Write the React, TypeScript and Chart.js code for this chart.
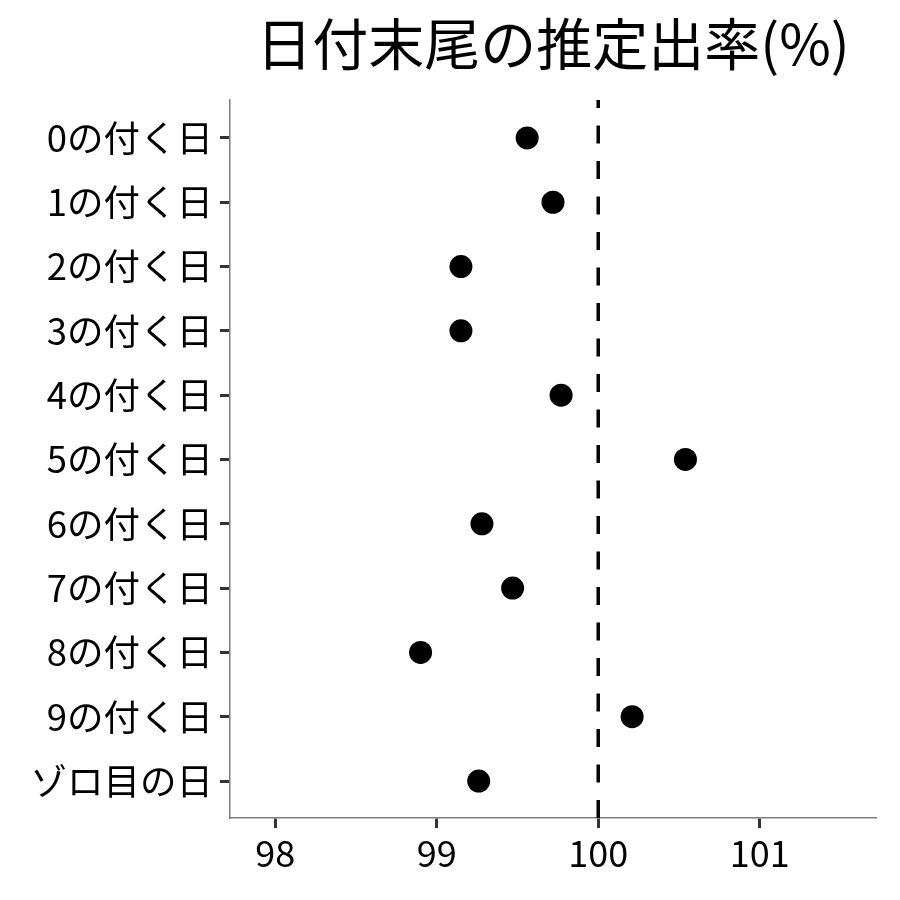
import React, { useEffect, useRef } from "react";
import { Chart, registerables } from "chart.js";

Chart.register(...registerables);

const TITLE = "日付末尾の推定出率(%)";
const CATEGORIES = [
  "0の付く日",
  "1の付く日",
  "2の付く日",
  "3の付く日",
  "4の付く日",
  "5の付く日",
  "6の付く日",
  "7の付く日",
  "8の付く日",
  "9の付く日",
  "ゾロ目の日",
];
const VALUES = [99.56, 99.72, 99.15, 99.15, 99.77, 100.54, 99.28, 99.47, 98.9, 100.21, 99.26];
const X_TICKS = [98, 99, 100, 101];
const REFERENCE_X = 100;
const X_MIN = 97.72;
const X_MAX = 101.72;

const FONT = "'Noto Sans CJK JP', 'Noto Sans', sans-serif";

export default function App() {
  const ref = useRef<HTMLCanvasElement | null>(null);

  useEffect(() => {
    if (!ref.current) return;
    const yMin = -0.59;
    const yMax = CATEGORIES.length - 1 + 0.575;

    const titlePlugin = {
      id: "customTitle",
      afterDraw(chart: any) {
        const { ctx, chartArea } = chart;
        ctx.save();
        ctx.font = `56px ${FONT}`;
        ctx.fillStyle = "#000";
        ctx.textAlign = "center";
        ctx.textBaseline = "middle";
        ctx.fillText(TITLE, (chartArea.left + chartArea.right) / 2, 44);
        ctx.restore();
      },
    };

    const chart = new Chart(ref.current, {
      type: "scatter",
      data: {
        datasets: [
          {
            type: "line",
            data: [
              { x: REFERENCE_X, y: yMin },
              { x: REFERENCE_X, y: yMax },
            ],
            borderColor: "#000",
            borderWidth: 3.5,
            borderDash: [18, 17.5],
            borderDashOffset: 10,
            pointRadius: 0,
            fill: false,
          } as any,
          {
            data: VALUES.map((v, i) => ({ x: v, y: i })),
            backgroundColor: "#000",
            borderColor: "#000",
            pointRadius: 11.5,
            pointHoverRadius: 11.5,
            borderWidth: 0,
          },
        ],
      },
      options: {
        responsive: false,
        animation: false,
        events: [],
        layout: { padding: { top: 100, right: 24, left: 0, bottom: 0 } },
        plugins: {
          legend: { display: false },
          tooltip: { enabled: false },
          title: { display: false },
        },
        scales: {
          x: {
            type: "linear",
            min: X_MIN,
            max: X_MAX,
            afterBuildTicks(scale: any) {
              scale.ticks = X_TICKS.map((v) => ({ value: v }));
            },
            afterFit(scale: any) {
              scale.height = 82;
            },
            ticks: {
              font: { family: FONT, size: 36 },
              color: "#000",
              padding: 4,
              autoSkip: false,
              maxRotation: 0,
              callback: (v: any) => String(v),
            },
            grid: {
              display: true,
              drawOnChartArea: false,
              drawTicks: true,
              tickLength: 10,
              tickWidth: 3,
              tickColor: "#333",
              color: "#333",
            },
            border: { display: true, color: "#7f7f7f", width: 1.5 },
          },
          y: {
            type: "linear",
            min: yMin,
            max: yMax,
            reverse: true,
            afterBuildTicks(scale: any) {
              scale.ticks = CATEGORIES.map((_, i) => ({ value: i }));
            },
            afterFit(scale: any) {
              scale.width = 230;
            },
            ticks: {
              font: { family: FONT, size: 36.5 },
              color: "#000",
              padding: 7,
              autoSkip: false,
              callback: (v: any) => CATEGORIES[Math.round(Number(v))] ?? "",
            },
            grid: {
              display: true,
              drawOnChartArea: false,
              drawTicks: true,
              tickLength: 10,
              tickWidth: 3,
              tickColor: "#333",
              color: "#333",
            },
            border: { display: true, color: "#7f7f7f", width: 1.5 },
          },
        },
      },
      plugins: [titlePlugin],
    });

    return () => chart.destroy();
  }, []);

  return (
    <div style={{ position: "fixed", left: 0, top: 0, width: 900, height: 900, background: "#fff" }}>
      <canvas ref={ref} width={900} height={900} style={{ width: 900, height: 900, display: "block" }} />
    </div>
  );
}
